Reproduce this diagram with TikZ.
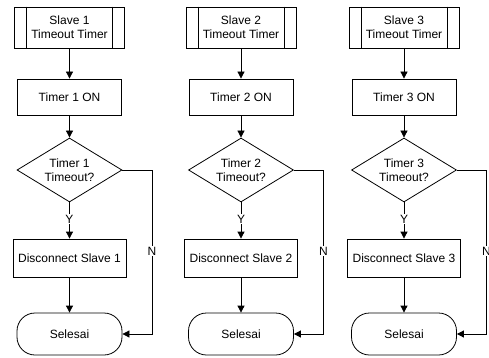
\documentclass[tikz,border=0pt]{standalone}
\usepackage{fontspec}
\setmainfont{Liberation Sans}
\usetikzlibrary{shapes.geometric,arrows.meta}
\begin{document}
\begin{tikzpicture}[x=1pt,y=-1pt,
  every node/.style={font=\fontsize{12}{14}\selectfont},
  box/.style={draw,line width=0.8pt,rectangle,inner sep=0pt,align=center},
  predef/.style={box,minimum width=110pt,minimum height=41pt},
  proc/.style={box,minimum width=104pt,minimum height=36pt},
  dec/.style={draw,line width=0.8pt,diamond,shape aspect=1.64,inner sep=0pt,minimum width=105pt,minimum height=64pt,align=center},
  term/.style={box,minimum width=105pt,minimum height=42pt,rounded corners=18pt},
  arr/.style={line width=0.8pt,-{Triangle[length=7pt,width=7pt]}},
  lbl/.style={fill=white,inner sep=1pt}]
\useasboundingbox (0,0) rectangle (489,358);
\foreach \i/\c in {1/69.5,2/241,3/404} {
  \node[predef] (s\i) at (\c,27.5) {Slave \i\\Timeout Timer};
  \draw[line width=0.8pt] ([xshift=12.5pt]s\i.north west) -- ([xshift=12.5pt]s\i.south west);
  \draw[line width=0.8pt] ([xshift=-12.5pt]s\i.north east) -- ([xshift=-12.5pt]s\i.south east);
  \node[proc] (t\i) at (\c,97) {Timer \i{} ON};
  \node[dec] (d\i) at (\c,170) {Timer \i\\Timeout?};
  \node[proc,minimum width=113pt,minimum height=38pt] (x\i) at (\c,258) {Disconnect Slave \i};
  \node[term] (e\i) at (\c,334) {Selesai};
  \coordinate (k\i) at ({\c+82.5},334);
  \draw[arr] (s\i) -- (t\i);
  \draw[arr] (t\i) -- (d\i);
  \draw[arr] (d\i) -- (x\i);
  \draw[arr] (x\i) -- (e\i);
  \draw[arr] (d\i.east) -| (k\i) -- (e\i.east);
  \node[lbl] (y\i) at (\c,219) {Y};
  \node[lbl] (n\i) at ({\c+82.5},251) {N};
}
\end{tikzpicture}
\end{document}
